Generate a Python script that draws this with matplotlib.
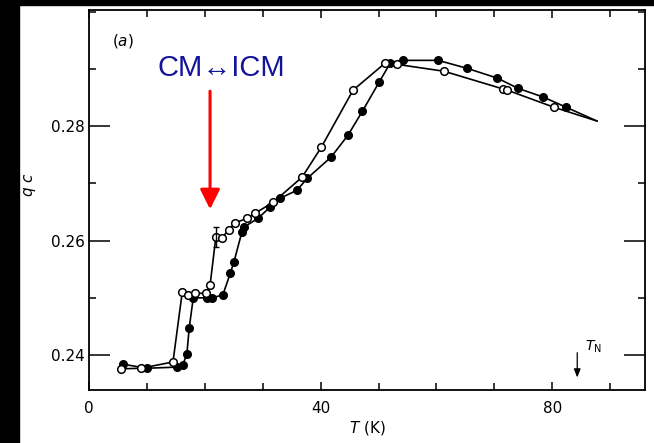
import numpy as np
import matplotlib.pyplot as plt
from matplotlib.patches import Rectangle
from matplotlib.ticker import MultipleLocator

# wave vector q*c vs temperature, two runs (open = warming, filled = cooling)
T_open = [5.5, 9.0, 14.5, 16.1, 17.1, 18.3, 20.2, 20.9, 21.9, 22.9, 24.2, 25.2,
          27.3, 28.7, 31.8, 36.8, 40.1, 45.6, 51.1, 53.2, 61.3, 71.5, 72.2, 80.3]
q_open = [0.2376, 0.2377, 0.2388, 0.2510, 0.2505, 0.2508, 0.2508, 0.2522, 0.2606,
          0.2605, 0.2619, 0.2631, 0.2639, 0.2648, 0.2667, 0.2711, 0.2763, 0.2863,
          0.2910, 0.2908, 0.2896, 0.2865, 0.2863, 0.2833]

T_fill = [5.9, 10.0, 15.2, 16.2, 16.9, 17.3, 18.0, 20.4, 21.2, 23.1, 24.4, 25.0,
          26.4, 26.8, 29.2, 31.3, 33.0, 35.9, 37.7, 41.8, 44.7, 47.2, 50.1, 52.0,
          54.2, 60.3, 65.3, 70.5, 74.1, 78.4, 82.4]
q_fill = [0.2384, 0.2377, 0.2379, 0.2383, 0.2402, 0.2447, 0.2500, 0.2500, 0.2500,
          0.2505, 0.2543, 0.2562, 0.2615, 0.2624, 0.2639, 0.2659, 0.2674, 0.2688,
          0.2709, 0.2746, 0.2784, 0.2826, 0.2877, 0.2910, 0.2915, 0.2915, 0.2901,
          0.2884, 0.2866, 0.2851, 0.2833]

# curve continues past the last measured point
T_tail = [87.7]
q_tail = [0.2809]

# error bar on the first point above the CM-ICM step
err_T = 21.9
err_q = 0.2606
err_dq = 0.0017

T_N = 84.3

fig = plt.figure(figsize=(6.54, 4.43), dpi=100)
fig.patches.append(Rectangle((0, 0), 19/654, 1, transform=fig.transFigure,
                             color='black', zorder=0))
fig.patches.append(Rectangle((0, 1 - 5/443), 1, 5/443, transform=fig.transFigure,
                             color='black', zorder=0))

ax = fig.add_axes([89/654, 53/443, 556/654, 380/443])

ax.plot(T_open + T_tail, q_open + q_tail, '-', color='black', lw=1.2)
ax.plot(T_fill + T_tail, q_fill + q_tail, '-', color='black', lw=1.2)
ax.plot(T_fill, q_fill, 'o', color='black', ms=5.5, mec='black')
ax.plot(T_open, q_open, 'o', color='black', ms=5.5, mfc='white', mec='black', mew=1.1)
ax.errorbar([err_T], [err_q], yerr=[err_dq], fmt='none', ecolor='black',
            elinewidth=1, capsize=2)

ax.set_xlim(0, 96)
ax.set_ylim(0.2339, 0.3003)
ax.set_xticks([0, 40, 80])
ax.set_yticks([0.24, 0.26, 0.28])
ax.set_yticklabels(['0.24', '0.26', '0.28'])
ax.xaxis.set_minor_locator(MultipleLocator(10))
ax.yaxis.set_minor_locator(MultipleLocator(0.01))
ax.tick_params(which='both', direction='in', top=True, right=True,
               labelsize=11, width=1.1)
ax.tick_params(which='major', axis='y', length=15, pad=3)
ax.tick_params(which='major', axis='x', length=6, pad=8)
ax.tick_params(which='minor', length=5)
for s in ax.spines.values():
    s.set_linewidth(1.3)

ax.set_xlabel('$T$ (K)', fontsize=11, labelpad=2)
ax.set_ylabel('$q\\ c$', fontsize=11)
ax.yaxis.set_label_coords(-0.092, 0.54)
ax.text(4.0, 0.2941, '($a$)', fontsize=11)

# transition marker
ax.annotate('', xy=(20.9, 0.2650), xytext=(20.9, 0.2866),
            arrowprops=dict(arrowstyle='-|>,head_length=1.2,head_width=0.6',
                            color='red', lw=2.2))
ax.text(22.8, 0.2901, 'CM\u2194ICM', color='#14149b', fontsize=21,
        family=['Liberation Sans', 'DejaVu Sans'], ha='center', va='center')

# Neel temperature
ax.annotate('', xy=(T_N, 0.2356), xytext=(T_N, 0.2409),
            arrowprops=dict(arrowstyle='-|>,head_length=0.5,head_width=0.2',
                            color='black', lw=0.9))
ax.text(T_N + 1.3, 0.2408, '$T_{\\rm N}$', fontsize=10)

fig.savefig('out.png', dpi=100)
